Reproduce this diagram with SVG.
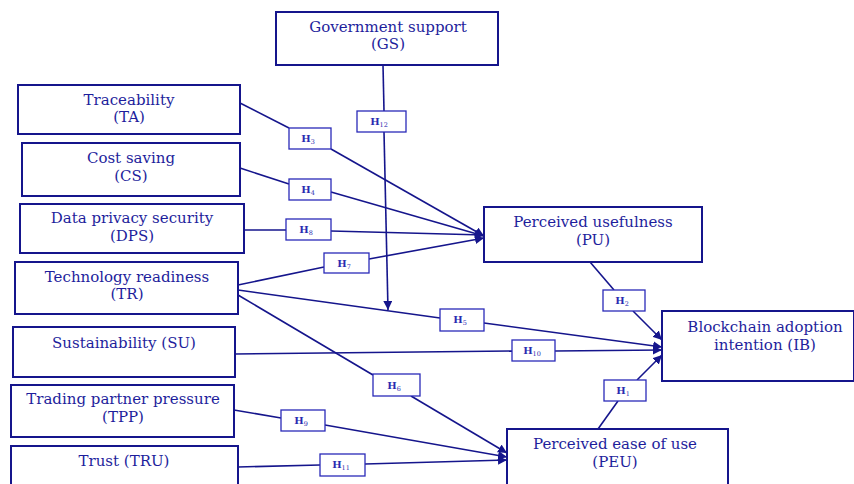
<svg xmlns="http://www.w3.org/2000/svg" width="854" height="484" viewBox="0 0 854 484">
<style>
.box{fill:#fff;stroke:#15158c;stroke-width:2}
.lbl{fill:#fff;stroke:#2a2ab8;stroke-width:1.3}
.t{font-family:"DejaVu Serif","Liberation Serif",serif;font-size:15px;fill:#1e1e9c;text-anchor:middle}
.h{font-family:"DejaVu Serif","Liberation Serif",serif;font-size:10px;font-weight:bold;fill:#2a2ab0;text-anchor:middle}
.h tspan{font-size:6.5px;font-weight:normal}
.c{fill:none;stroke:#15158c;stroke-width:1.6}
</style>
<defs>
<marker id="ar" viewBox="0 0 10 10" refX="10" refY="5" markerWidth="9" markerHeight="9" markerUnits="userSpaceOnUse" orient="auto">
<path d="M0,0 L10,5 L0,10 z" fill="#15158c"/>
</marker>
</defs>
<rect width="854" height="484" fill="#fff"/>
<g id="connectors">
<path class="c" d="M383,65 L384,111"/>
<path class="c" d="M384,132 L388,310" marker-end="url(#ar)"/>
<path class="c" d="M240,103 L289,128"/>
<path class="c" d="M331,149 L484,236" marker-end="url(#ar)"/>
<path class="c" d="M240,168 L289,184"/>
<path class="c" d="M331,192 L484,236" marker-end="url(#ar)"/>
<path class="c" d="M244,230 L286,230"/>
<path class="c" d="M331,231 L484,235" marker-end="url(#ar)"/>
<path class="c" d="M238,285 L324,267"/>
<path class="c" d="M369,259 L484,238" marker-end="url(#ar)"/>
<path class="c" d="M238,290 L440,318"/>
<path class="c" d="M484,323 L662,347" marker-end="url(#ar)"/>
<path class="c" d="M238,295 L373,375"/>
<path class="c" d="M411,396 L507,453" marker-end="url(#ar)"/>
<path class="c" d="M235,354 L512,351"/>
<path class="c" d="M555,351 L662,350" marker-end="url(#ar)"/>
<path class="c" d="M234,410 L281,418"/>
<path class="c" d="M325,425 L507,457" marker-end="url(#ar)"/>
<path class="c" d="M238,467 L320,465"/>
<path class="c" d="M365,464 L507,460" marker-end="url(#ar)"/>
<path class="c" d="M590,262 L614,290"/>
<path class="c" d="M633,311 L662,340" marker-end="url(#ar)"/>
<path class="c" d="M598,429 L618,401"/>
<path class="c" d="M637,380 L662,355" marker-end="url(#ar)"/>
</g>
<g id="GS"><rect class="box" x="276" y="12" width="222" height="53"/><text class="t" x="388" y="32">Government support</text><text class="t" x="388" y="49">(GS)</text></g>
<g id="TA"><rect class="box" x="18" y="85" width="222" height="49"/><text class="t" x="129" y="105">Traceability</text><text class="t" x="129" y="122">(TA)</text></g>
<g id="CS"><rect class="box" x="22" y="143" width="218" height="53"/><text class="t" x="131" y="163">Cost saving</text><text class="t" x="131" y="181">(CS)</text></g>
<g id="DPS"><rect class="box" x="20" y="204" width="224" height="49"/><text class="t" x="132" y="223">Data privacy security</text><text class="t" x="132" y="241">(DPS)</text></g>
<g id="TR"><rect class="box" x="15" y="262" width="223" height="52"/><text class="t" x="127" y="282">Technology readiness</text><text class="t" x="127" y="299">(TR)</text></g>
<g id="SU"><rect class="box" x="13" y="327" width="222" height="50"/><text class="t" x="124" y="348">Sustainability (SU)</text></g>
<g id="TPP"><rect class="box" x="11" y="385" width="223" height="52"/><text class="t" x="123" y="404">Trading partner pressure</text><text class="t" x="123" y="422">(TPP)</text></g>
<g id="TRU"><rect class="box" x="11" y="446" width="227" height="44"/><text class="t" x="124" y="466">Trust (TRU)</text></g>
<g id="PU"><rect class="box" x="484" y="207" width="218" height="55"/><text class="t" x="593" y="227">Perceived usefulness</text><text class="t" x="593" y="245">(PU)</text></g>
<g id="IB"><rect class="box" x="662" y="311" width="192" height="70"/><text class="t" x="765" y="332">Blockchain adoption</text><text class="t" x="765" y="350">intention (IB)</text></g>
<g id="PEU"><rect class="box" x="507" y="429" width="221" height="56"/><text class="t" x="615" y="449">Perceived ease of use</text><text class="t" x="615" y="467">(PEU)</text></g>
<g id="H12"><rect class="lbl" x="357" y="111" width="49" height="21"/><text class="h" x="379" y="125">H<tspan dy="2">12</tspan></text></g>
<g id="H3"><rect class="lbl" x="289" y="128" width="42" height="21"/><text class="h" x="308" y="142">H<tspan dy="2">3</tspan></text></g>
<g id="H4"><rect class="lbl" x="289" y="179" width="42" height="21"/><text class="h" x="308" y="193">H<tspan dy="2">4</tspan></text></g>
<g id="H8"><rect class="lbl" x="286" y="219" width="45" height="21"/><text class="h" x="306" y="233">H<tspan dy="2">8</tspan></text></g>
<g id="H7"><rect class="lbl" x="324" y="253" width="45" height="20"/><text class="h" x="344" y="267">H<tspan dy="2">7</tspan></text></g>
<g id="H5"><rect class="lbl" x="440" y="309" width="44" height="22"/><text class="h" x="460" y="323">H<tspan dy="2">5</tspan></text></g>
<g id="H10"><rect class="lbl" x="512" y="340" width="43" height="21"/><text class="h" x="532" y="354">H<tspan dy="2">10</tspan></text></g>
<g id="H6"><rect class="lbl" x="373" y="374" width="47" height="22"/><text class="h" x="394" y="389">H<tspan dy="2">6</tspan></text></g>
<g id="H9"><rect class="lbl" x="281" y="410" width="44" height="21"/><text class="h" x="301" y="424">H<tspan dy="2">9</tspan></text></g>
<g id="H11"><rect class="lbl" x="320" y="454" width="45" height="22"/><text class="h" x="341" y="468">H<tspan dy="2">11</tspan></text></g>
<g id="H2"><rect class="lbl" x="603" y="290" width="42" height="21"/><text class="h" x="622" y="304">H<tspan dy="2">2</tspan></text></g>
<g id="H1"><rect class="lbl" x="604" y="380" width="42" height="21"/><text class="h" x="623" y="394">H<tspan dy="2">1</tspan></text></g>
</svg>
